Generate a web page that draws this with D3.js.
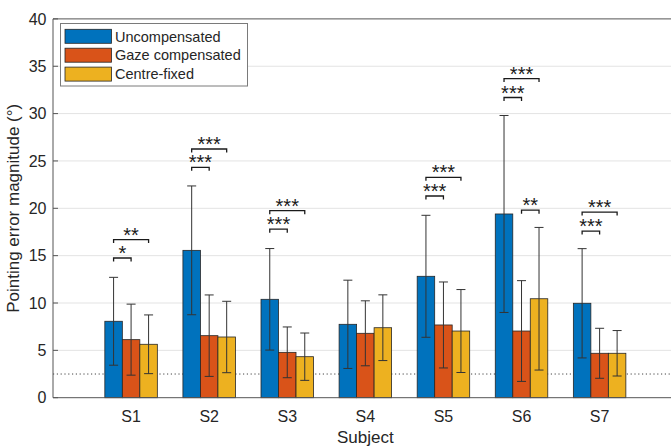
<!DOCTYPE html>
<html>
<head>
<meta charset="utf-8">
<script src="https://cdn.jsdelivr.net/npm/d3@7"></script>
<style>
  body { margin: 0; background: #fff; }
  svg { display: block; font-family: "Liberation Sans", Arial, Helvetica, sans-serif; }
</style>
</head>
<body>
<div id="chart"></div>
<script>
const subjects = ["S1", "S2", "S3", "S4", "S5", "S6", "S7"];
const seriesNames = ["Uncompensated", "Gaze compensated", "Centre-fixed"];

// mean pointing error (deg) and error bar half-lengths
const uncompensated    = [8.07, 15.56, 10.39, 7.75, 12.82, 19.40, 9.97];
const uncompensatedErr = [4.64, 6.80, 5.36, 4.66, 6.44, 10.40, 5.77];
const gazeComp         = [6.13, 6.55, 4.79, 6.80, 7.68, 7.04, 4.69];
const gazeCompErr      = [3.75, 4.30, 2.68, 3.43, 4.54, 5.32, 2.64];
const centreFixed      = [5.64, 6.41, 4.33, 7.39, 7.04, 10.45, 4.69];
const centreFixedErr   = [3.10, 3.77, 2.50, 3.47, 4.38, 7.53, 2.40];

const yTicks = [0, 5, 10, 15, 20, 25, 30, 35, 40];
const chanceLevel = 2.5;

// significance brackets: subject index, series from/to, bracket level, stars
const bracketSubject = [0, 0, 1, 1, 2, 2, 4, 4, 5, 5, 5, 6, 6];
const bracketFrom    = [0, 0, 0, 0, 0, 0, 0, 0, 0, 0, 1, 0, 0];
const bracketTo      = [1, 2, 1, 2, 1, 2, 1, 2, 1, 2, 2, 1, 2];
const bracketLevel   = [14.75, 16.7, 24.33, 26.26, 17.8, 19.75, 21.3, 23.27, 31.7, 33.7, 19.8, 17.6, 19.6];
const bracketLabel   = ["*", "**", "***", "***", "***", "***", "***", "***", "***", "***", "**", "***", "***"];

const colors = ["#0072BD", "#D95319", "#EDB120"];

const width = 671, height = 447;
const means = [uncompensated, gazeComp, centreFixed];
const errs = [uncompensatedErr, gazeCompErr, centreFixedErr];

const svg = d3.select("#chart").append("svg")
  .attr("width", width)
  .attr("height", height);

const x = d3.scaleLinear().domain([0, 8]).range([53, 677.7]);
const y = d3.scaleLinear().domain([0, 40]).range([397.7, 18.9]);
const xs = d3.scaleBand().domain([0, 1, 2]).range([-26.25, 26.25]);

const left = x(0), right = x(8);
const barX = (i, s) => x(i + 1) + xs(s);
const barC = (i, s) => barX(i, s) + xs.bandwidth() / 2;

// grid
svg.append("g").selectAll("line")
  .data(yTicks.slice(1, -1))
  .join("line")
    .attr("x1", left).attr("x2", right)
    .attr("y1", d => y(d)).attr("y2", d => y(d))
    .attr("stroke", "#e3e3e3")
    .attr("stroke-width", 1);

// dotted reference line
svg.append("line")
  .attr("x1", left).attr("x2", right)
  .attr("y1", y(chanceLevel)).attr("y2", y(chanceLevel))
  .attr("stroke", "#444")
  .attr("stroke-width", 1)
  .attr("stroke-dasharray", "1.2,2.6");

// bars
const rows = [];
subjects.forEach((sub, i) => {
  [0, 1, 2].forEach(s => rows.push({ i, s, v: means[s][i], e: errs[s][i] }));
});

svg.append("g").selectAll("rect")
  .data(rows)
  .join("rect")
    .attr("x", d => barX(d.i, d.s))
    .attr("y", d => y(d.v))
    .attr("width", xs.bandwidth())
    .attr("height", d => y(0) - y(d.v))
    .attr("fill", d => colors[d.s])
    .attr("stroke", "#262626")
    .attr("stroke-width", 0.8);

// error bars
const eb = svg.append("g")
  .attr("stroke", "#333")
  .attr("stroke-width", 1);

eb.selectAll(".v").data(rows).join("line")
  .attr("x1", d => barC(d.i, d.s)).attr("x2", d => barC(d.i, d.s))
  .attr("y1", d => y(d.v - d.e)).attr("y2", d => y(d.v + d.e));
eb.selectAll(".t").data(rows).join("line")
  .attr("x1", d => barC(d.i, d.s) - 4.5).attr("x2", d => barC(d.i, d.s) + 4.5)
  .attr("y1", d => y(d.v + d.e)).attr("y2", d => y(d.v + d.e));
eb.selectAll(".b").data(rows).join("line")
  .attr("x1", d => barC(d.i, d.s) - 4.5).attr("x2", d => barC(d.i, d.s) + 4.5)
  .attr("y1", d => y(d.v - d.e)).attr("y2", d => y(d.v - d.e));

// significance brackets
const brackets = bracketSubject.map((sub, k) => ({
  x1: barC(sub, bracketFrom[k]),
  x2: barC(sub, bracketTo[k]),
  yy: y(bracketLevel[k]),
  label: bracketLabel[k]
}));

const bg = svg.append("g");
bg.selectAll("path").data(brackets).join("path")
  .attr("d", d => `M${d.x1},${d.yy + 3.5}V${d.yy}H${d.x2}V${d.yy + 3.5}`)
  .attr("fill", "none")
  .attr("stroke", "#1a1a1a")
  .attr("stroke-width", 1.3);
bg.selectAll("text").data(brackets).join("text")
  .attr("x", d => (d.x1 + d.x2) / 2)
  .attr("y", d => d.yy + 2)
  .attr("text-anchor", "middle")
  .attr("font-size", 20)
  .attr("fill", "#1a1a1a")
  .text(d => d.label);

// axes box
const ax = svg.append("g").attr("stroke", "#555").attr("stroke-width", 1).attr("fill", "none");
ax.append("path").attr("d", `M${right},${y(40)}H${left}V${y(0)}H${right}`);
ax.selectAll(".tick").data(yTicks).join("line")
  .attr("x1", left).attr("x2", left + 5)
  .attr("y1", d => y(d)).attr("y2", d => y(d));

// y tick labels
svg.append("g").selectAll("text").data(yTicks).join("text")
  .attr("x", 46.5)
  .attr("y", d => y(d))
  .attr("dy", "0.36em")
  .attr("text-anchor", "end")
  .attr("font-size", 16)
  .attr("fill", "#262626")
  .text(d => d);

// x tick labels
svg.append("g").selectAll("text").data(subjects).join("text")
  .attr("x", (d, i) => x(i + 1))
  .attr("y", 421.5)
  .attr("text-anchor", "middle")
  .attr("font-size", 16)
  .attr("fill", "#262626")
  .text(d => d);

// axis titles
svg.append("text")
  .attr("x", (left + right) / 2)
  .attr("y", 443)
  .attr("text-anchor", "middle")
  .attr("font-size", 17)
  .attr("fill", "#262626")
  .text("Subject");

svg.append("text")
  .attr("transform", `translate(19,${(y(0) + y(40)) / 2}) rotate(-90)`)
  .attr("text-anchor", "middle")
  .attr("font-size", 17)
  .attr("fill", "#262626")
  .text("Pointing error magnitude (°)");

// legend
const lg = svg.append("g");
lg.append("rect")
  .attr("x", 60.5).attr("y", 23.5)
  .attr("width", 187).attr("height", 62.5)
  .attr("fill", "#fff")
  .attr("stroke", "#7a7a7a")
  .attr("stroke-width", 1);
const items = lg.selectAll("g").data(seriesNames).join("g")
  .attr("transform", (d, i) => `translate(0,${29.3 + i * 18.9})`);
items.append("rect")
  .attr("x", 65).attr("y", 0)
  .attr("width", 46.5).attr("height", 14)
  .attr("fill", (d, i) => colors[i])
  .attr("stroke", "#262626")
  .attr("stroke-width", 0.8);
items.append("text")
  .attr("x", 115)
  .attr("y", 12.2)
  .attr("font-size", 14.5)
  .attr("fill", "#262626")
  .text(d => d);
</script>
</body>
</html>
